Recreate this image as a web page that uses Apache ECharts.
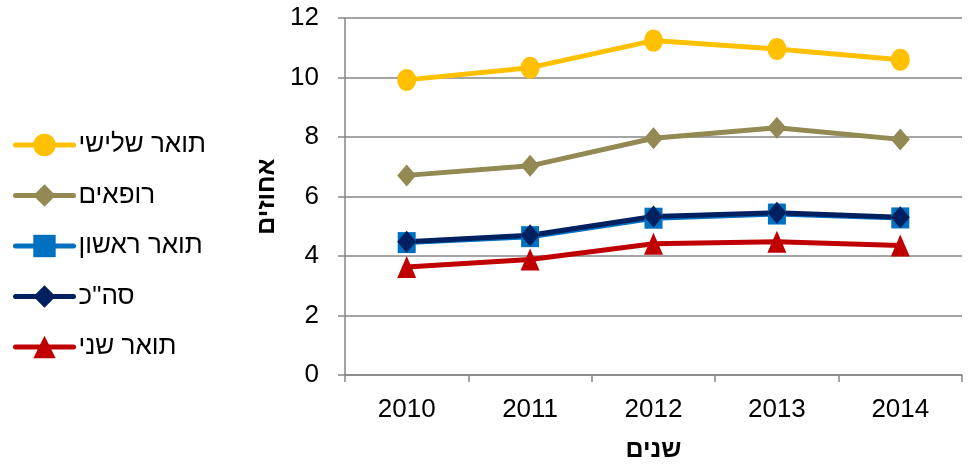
<!DOCTYPE html>
<html><head><meta charset="utf-8">
<script src="https://cdn.jsdelivr.net/npm/echarts@6/dist/echarts.min.js"></script>
<style>html,body{margin:0;padding:0;background:#fff}#c{width:970px;height:468px}</style>
</head><body><div id="c"></div>
<script>
const years = ['2010','2011','2012','2013','2014'];
const third = [9.92, 10.33, 11.24, 10.96, 10.60];
const doctors = [6.71, 7.03, 7.96, 8.31, 7.92];
const first = [4.45, 4.65, 5.27, 5.41, 5.28];
const total = [4.48, 4.70, 5.33, 5.45, 5.30];
const second = [3.63, 3.88, 4.41, 4.48, 4.35];
const yTicks = [0, 2, 4, 6, 8, 10, 12];

const font = "'Liberation Sans', Arial, sans-serif";
const axisColor = '#868686';
function s(name, data, color, symbol, size) {
  return {name, type:'line', data, symbol, symbolSize:size, showSymbol:true,
    lineStyle:{color, width:5}, itemStyle:{color}, z: 2};
}
const chart = echarts.init(document.getElementById('c'), null, {renderer:'canvas'});
chart.setOption({
  animation:false,
  textStyle:{fontFamily:font},
  grid:{left:345, right:8, top:18, bottom:92, containLabel:false},
  legend:{
    orient:'vertical', left:8, top:127, itemGap:24.5, itemWidth:58, itemHeight:28,
    lineStyle:{width:5, cap:'round'},
    textStyle:{fontSize:26, color:'#000', fontFamily:font, padding:[0,0,0,0]},
    data:['תואר שלישי','רופאים','תואר ראשון','סה"כ','תואר שני']
  },
  xAxis:{type:'category', data:years, boundaryGap:true,
    name:'שנים', nameLocation:'middle', nameGap:63,
    nameTextStyle:{fontSize:25, fontWeight:'bold', color:'#000', fontFamily:font},
    axisLine:{lineStyle:{color:axisColor, width:1.5}},
    axisTick:{show:true, length:7, lineStyle:{color:axisColor, width:1.5}},
    axisLabel:{fontSize:26, color:'#000', margin:22, fontFamily:font}},
  yAxis:{type:'value', min:0, max:12, interval:2,
    name:'אחוזים', nameLocation:'middle', nameGap:64, nameRotate:90,
    nameTextStyle:{fontSize:25, fontWeight:'bold', color:'#000', fontFamily:font},
    axisLine:{show:true, lineStyle:{color:axisColor, width:1.5}},
    axisTick:{show:true, length:7, lineStyle:{color:axisColor, width:1.5}},
    splitLine:{lineStyle:{color:axisColor, width:1.5}},
    axisLabel:{fontSize:26, color:'#000', margin:26, fontFamily:font,
      formatter:v=>yTicks.includes(v)?String(v):''}},
  series:[
    s('תואר שלישי', third, '#FFC000', 'circle', [19,22]),
    s('רופאים', doctors, '#938953', 'diamond', [19,22]),
    s('תואר ראשון', first, '#0070C0', 'rect', [18,21]),
    s('סה"כ', total, '#002060', 'diamond', [19,22]),
    s('תואר שני', second, '#C00000', 'triangle', [19,22])
  ]
});
</script></body></html>
